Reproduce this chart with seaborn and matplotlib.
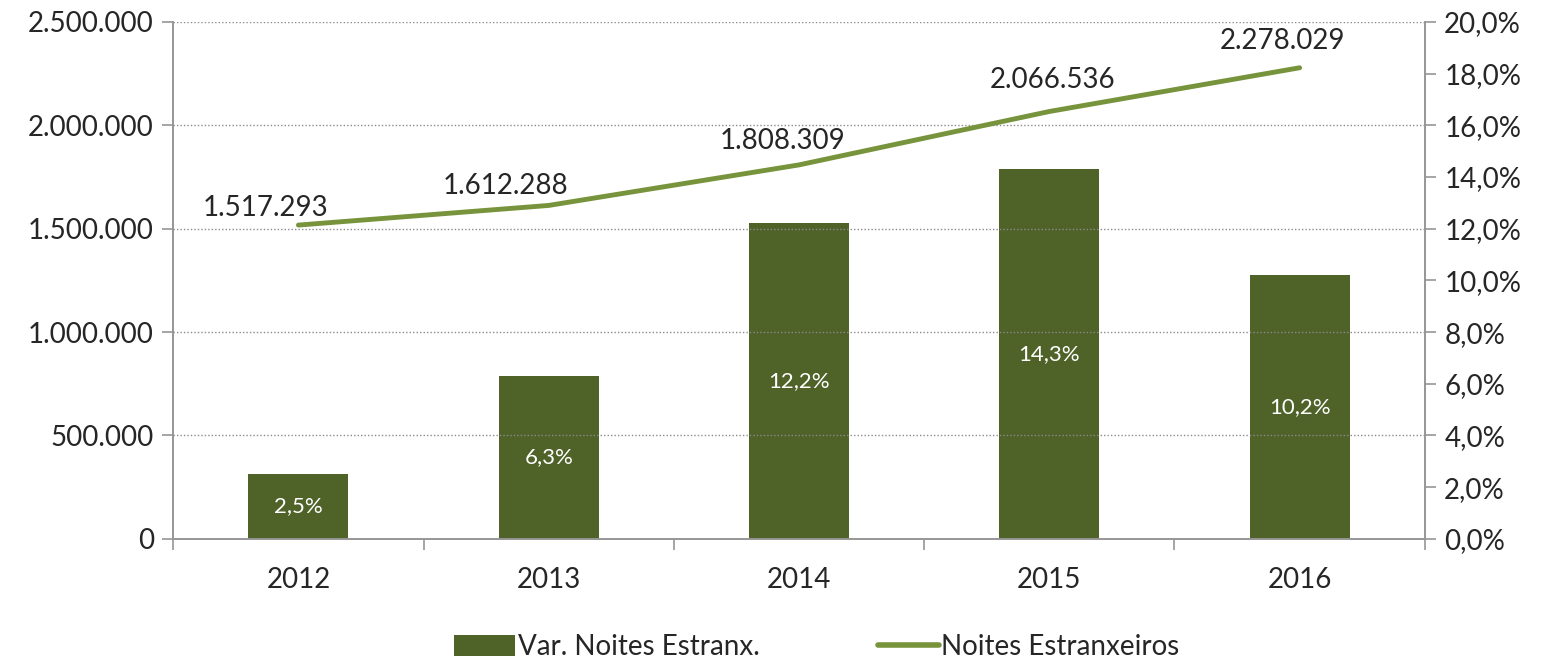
import numpy as np
import pandas as pd
import matplotlib
matplotlib.use("Agg")
import matplotlib.pyplot as plt
import seaborn as sns
from matplotlib.lines import Line2D
from matplotlib.patches import Patch
from matplotlib.ticker import FuncFormatter, FixedLocator

# ---------------- data ----------------
years = ["2012", "2013", "2014", "2015", "2016"]
noites = [1517293, 1612288, 1808309, 2066536, 2278029]
var_pct = [2.5, 6.3, 12.2, 14.3, 10.2]

# label placement (points), like the excel layout
lab_dx = [-24, -31, -12, 2, -12]
lab_dy = [12, 14, 17, 23, 19]

bar_color = "#4F6228"
line_color = "#77933C"
axis_gray = "#969696"

sns.set_theme(style="white")
plt.rcParams["font.family"] = ["Lato", "DejaVu Sans"]

df = pd.DataFrame({"ano": years, "noites": noites, "var": var_pct})
df["pos"] = np.arange(len(years))

fig, ax = plt.subplots(figsize=(15.47, 6.62), dpi=100)
fig.subplots_adjust(left=0.112, right=0.921, top=0.967, bottom=0.186)
ax2 = ax.twinx()

# bars on secondary (percent) axis
sns.barplot(data=df, x="ano", y="var", ax=ax2, color=bar_color,
            width=0.4, saturation=1, edgecolor="none")
for i, v in enumerate(var_pct):
    ax2.text(i, v / 2, f"{v:.1f}%".replace(".", ","), ha="center", va="center",
             color="white", fontsize=16)

# line on primary axis
sns.lineplot(data=df, x="pos", y="noites", ax=ax, color=line_color, linewidth=3.5)
for i, v in enumerate(noites):
    ax.annotate(f"{v:,}".replace(",", "."), (i, v), xytext=(lab_dx[i], lab_dy[i]),
                textcoords="offset points", ha="center", va="center", fontsize=20)

ax.set_zorder(ax2.get_zorder() + 1)
ax.patch.set_visible(False)

ax.set_xlim(-0.5, 4.5)
ax2.set_xlim(-0.5, 4.5)
ax.set_ylim(0, 2500000)
ax2.set_ylim(0, 20)
ax.set_yticks(np.arange(0, 2500001, 500000))
ax2.set_yticks(np.arange(0, 20.1, 2))
ax.yaxis.set_major_formatter(FuncFormatter(lambda v, p: f"{int(v):,}".replace(",", ".")))
ax2.yaxis.set_major_formatter(FuncFormatter(lambda v, p: f"{v:.1f}%".replace(".", ",")))

ax.set_xticks(range(len(years)))
ax.set_xticklabels(years)
ax.xaxis.set_minor_locator(FixedLocator(np.arange(-0.5, 4.6, 1)))
ax.tick_params(axis="x", which="major", length=0, pad=20, labelsize=20)
ax.tick_params(axis="x", which="minor", length=8, width=1.2, color=axis_gray, bottom=True)
ax.tick_params(axis="y", length=8, width=1.2, color=axis_gray, labelsize=20, left=True, pad=6)
ax2.tick_params(axis="y", length=8, width=1.2, color=axis_gray, labelsize=20, right=True, pad=6)
ax2.tick_params(axis="x", length=0)

ax.set_xlabel("")
ax.set_ylabel("")
ax2.set_xlabel("")
ax2.set_ylabel("")

ax.yaxis.grid(True, linestyle=(0, (1, 1.5)), color="#8c8c8c", linewidth=1)
ax2.grid(False)

for a in (ax, ax2):
    a.spines["top"].set_visible(False)
    for s in ("left", "right", "bottom"):
        a.spines[s].set_color(axis_gray)
        a.spines[s].set_linewidth(1.2)

handles = [Patch(facecolor=bar_color, edgecolor="none"),
           Line2D([0], [0], color=line_color, linewidth=4)]
fig.legend(handles, ["Var. Noites Estranx.", "Noites Estranxeiros"],
           loc="lower center", bbox_to_anchor=(0.528, -0.035), ncol=2, frameon=False,
           fontsize=20, columnspacing=4.25, handlelength=2.2, handleheight=0.8,
           handletextpad=0.1)

fig.savefig("out.png", dpi=100)
